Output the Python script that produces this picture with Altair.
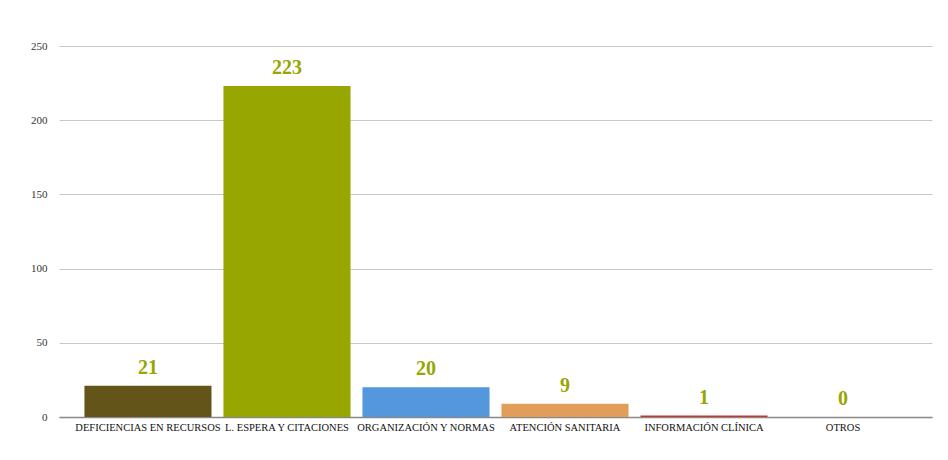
import altair as alt
import pandas as pd

categories = ["DEFICIENCIAS EN RECURSOS", "L. ESPERA Y CITACIONES", "ORGANIZACIÓN Y NORMAS",
              "ATENCIÓN SANITARIA", "INFORMACIÓN CLÍNICA", "OTROS"]
values = [21, 223, 20, 9, 1, 0]
colors = ["#635419", "#97a600", "#5597dc", "#e09e5a", "#c0392b", "#999999"]

df = pd.DataFrame({"cat": categories, "val": values})

x = alt.X("cat:N", sort=categories,
          scale=alt.Scale(paddingInner=0.086, paddingOuter=0.183),
          axis=alt.Axis(title=None, labelAngle=0, labelFont="Liberation Serif",
                        labelFontSize=10.5, labelColor="#111", labelPadding=5,
                        ticks=False, domainColor="#888", domainWidth=1.5,
                        labelLimit=200, grid=False))
y = alt.Y("val:Q", scale=alt.Scale(domain=[0, 250], nice=False),
          axis=alt.Axis(title=None, values=[0, 50, 100, 150, 200, 250],
                        labelFont="Liberation Serif", labelFontSize=11, labelColor="#333",
                        ticks=False, domain=False, labelPadding=12,
                        gridColor="#c8c8c8", gridWidth=1))

bars = alt.Chart(df).mark_bar().encode(
    x=x, y=y,
    color=alt.Color("cat:N", sort=categories,
                    scale=alt.Scale(domain=categories, range=colors), legend=None),
)
text = alt.Chart(df).mark_text(dy=-8, baseline="bottom", font="Liberation Serif",
                               fontSize=20, fontWeight="bold", color="#97a600").encode(
    x=alt.X("cat:N", sort=categories), y="val:Q", text="val:Q")

chart = (bars + text).properties(
    width=873, height=371,
    background="white",
    autosize=alt.AutoSizeParams(type="none"),
    padding={"left": 51, "top": 38, "right": 8, "bottom": 35},
).configure_view(stroke="transparent", strokeWidth=0, strokeOpacity=0)

chart.save("out.html", embed_options={"renderer": "svg", "actions": False})
